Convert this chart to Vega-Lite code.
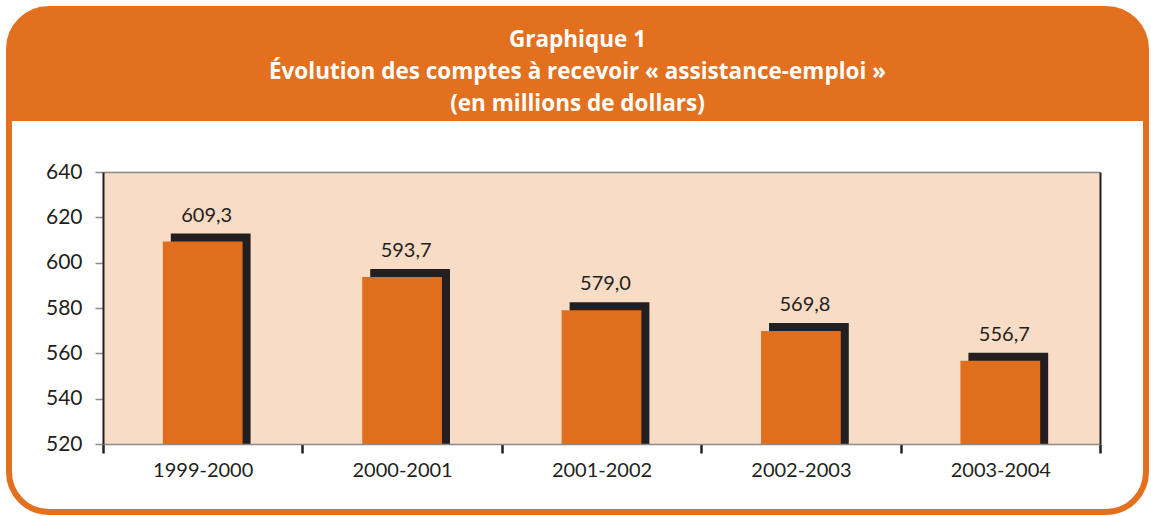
{
  "$schema": "https://vega.github.io/schema/vega-lite/v6.json",
  "autosize": "none",
  "width": 1137,
  "height": 503,
  "padding": {"left": 9, "top": 9, "right": 5, "bottom": 4},
  "background": "white",
  "view": {"fill": "white", "stroke": "#E2701F", "strokeWidth": 6, "cornerRadius": 40},
  "config": {
    "locale": {"number": {"decimal": ",", "thousands": "\u00a0", "grouping": [3], "currency": ["", " $"]}},
    "font": "Lato"
  },
  "title": {
    "text": ["Graphique 1", "Évolution des comptes à recevoir « assistance-emploi »", "(en millions de dollars)"],
    "color": "white",
    "font": "Open Sans",
    "fontSize": 22.5,
    "fontWeight": "bold",
    "lineHeight": 32,
    "anchor": "middle",
    "frame": "group",
    "baseline": "alphabetic",
    "offset": -124
  },
  "data": {
    "values": [
      {"periode": "1999-2000", "valeur": 609.3},
      {"periode": "2000-2001", "valeur": 593.7},
      {"periode": "2001-2002", "valeur": 579.0},
      {"periode": "2002-2003", "valeur": 569.8},
      {"periode": "2003-2004", "valeur": 556.7}
    ]
  },
  "resolve": {"axis": {"x": "independent", "y": "independent"}},
  "layer": [
    {
      "mark": {"type": "rect", "color": "#E2701F", "cornerRadiusTopLeft": 40, "cornerRadiusTopRight": 40, "clip": false},
      "encoding": {
        "y": {"datum": 711.9, "type": "quantitative", "scale": {"domain": [520, 640], "range": [435, 163], "zero": false, "nice": false}, "axis": null},
        "y2": {"datum": 662.5}
      }
    },
    {
      "mark": {"type": "bar", "color": "#F9DCC5", "stroke": "#F9DCC5", "strokeWidth": 0.8, "width": {"band": 1}},
      "encoding": {
        "x": {
          "field": "periode", "type": "nominal", "sort": null,
          "scale": {"range": [94, 1091], "paddingInner": 0, "paddingOuter": 0},
          "axis": {
            "orient": "bottom", "offset": -68, "title": null, "zindex": 2,
            "domainColor": "#8A8A8A", "domainWidth": 1.5,
            "tickBand": "extent", "tickColor": "#231F20", "tickWidth": 2.5, "tickSize": 9,
            "labelFont": "Lato", "labelFontSize": 20, "labelColor": "#231F20", "labelPadding": 7, "labelAngle": 0
          }
        },
        "y": {
          "datum": 640, "type": "quantitative",
          "scale": {"domain": [520, 640], "range": [435, 163], "zero": false, "nice": false},
          "axis": {
            "orient": "left", "offset": -94, "title": null, "zindex": 2, "grid": false,
            "values": [520, 540, 560, 580, 600, 620, 640],
            "domainColor": "#231F20", "domainWidth": 2,
            "tickColor": "#8A8A8A", "tickWidth": 1.5, "tickSize": 8,
            "labelFont": "Lato", "labelFontSize": 21, "labelColor": "#231F20", "labelPadding": 13
          }
        },
        "y2": {"datum": 520}
      }
    },
    {
      "mark": {"type": "bar", "color": "#231F20", "xOffset": 8, "yOffset": -8, "width": {"band": 0.4}},
      "encoding": {
        "x": {"field": "periode", "type": "nominal", "sort": null, "axis": null},
        "y": {"field": "valeur", "type": "quantitative", "axis": null, "scale": {"domain": [520, 640], "range": [435, 163], "zero": false, "nice": false}},
        "y2": {"datum": 520}
      }
    },
    {
      "mark": {"type": "bar", "color": "#E06F1D", "width": {"band": 0.4}},
      "encoding": {
        "x": {
          "field": "periode", "type": "nominal", "sort": null,
          "axis": {"orient": "top", "offset": -163, "title": null, "zindex": 2, "ticks": false, "labels": false, "domainColor": "#8A8A8A", "domainWidth": 1.5}
        },
        "y": {
          "field": "valeur", "type": "quantitative",
          "scale": {"domain": [520, 640], "range": [435, 163], "zero": false, "nice": false},
          "axis": {"orient": "right", "offset": -46, "title": null, "zindex": 2, "grid": false, "ticks": false, "labels": false, "domainColor": "#231F20", "domainWidth": 2}
        },
        "y2": {"datum": 520}
      }
    },
    {
      "mark": {"type": "text", "font": "Lato", "fontSize": 20, "color": "#231F20", "baseline": "alphabetic", "align": "center", "xOffset": 4, "yOffset": -20},
      "encoding": {
        "x": {"field": "periode", "type": "nominal", "sort": null, "axis": null},
        "y": {"field": "valeur", "type": "quantitative", "axis": null, "scale": {"domain": [520, 640], "range": [435, 163], "zero": false, "nice": false}},
        "text": {"field": "valeur", "type": "quantitative", "format": ".1f"}
      }
    }
  ]
}
